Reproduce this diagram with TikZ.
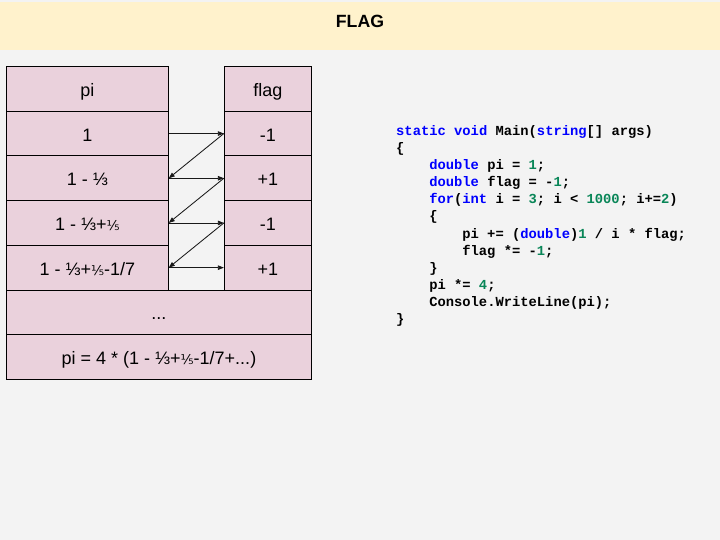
\documentclass[tikz,border=0pt]{standalone}
\usepackage{fontspec}
\setmainfont{Liberation Sans}
\newfontfamily\djv{DejaVu Sans}
\newfontfamily\codefont{Liberation Mono}
\usetikzlibrary{arrows.meta}
\definecolor{bgc}{HTML}{F3F3F3}
\definecolor{bann}{HTML}{FFF2CC}
\definecolor{cellc}{HTML}{EAD1DC}
\definecolor{kwc}{HTML}{0000FF}
\definecolor{numc}{HTML}{098658}
\newcommand{\kwd}[1]{\textcolor{kwc}{#1}}
\newcommand{\nmb}[1]{\textcolor{numc}{#1}}
\newcommand{\fifth}{{\djv\fontsize{13.5}{13.5}\selectfont ⅕}}
\begin{document}
\begin{tikzpicture}[x=1pt,y=-1pt,
 cell/.style={draw=black, line width=0.9pt, fill=cellc, inner sep=0pt, minimum height=44.7pt, text height=15.2pt, text depth=0pt, font=\fontsize{18}{18}\selectfont},
 picol/.style={cell, minimum width=161.8pt},
 flagcol/.style={cell, minimum width=87pt},
 widecol/.style={cell, minimum width=304.8pt},
 link/.style={line width=0.85pt, draw=black!90, -{Triangle[length=6pt,width=4.5pt]}},
 codeline/.style={anchor=base west, inner sep=0pt, font=\codefont\bfseries\fontsize{13.8}{17}\selectfont}]
\useasboundingbox (0,0) rectangle (720,540);
\fill[bgc] (0,0) rectangle (720,540);
\fill[bann] (0,2) rectangle (720,50);
\node[anchor=base, font=\bfseries\fontsize{17.7}{18}\selectfont] (title) at (360,28) {FLAG};

\node[picol] (p0) at (87.4,88.85) {pi};
\node[flagcol] (f0) at (267.8,88.85) {flag};
\node[picol] (p1) at (87.4,133.55) {1};
\node[flagcol] (f1) at (267.8,133.55) {-1};
\node[picol] (p2) at (87.4,178.25) {1 - ⅓};
\node[flagcol] (f2) at (267.8,178.25) {+1};
\node[picol] (p3) at (87.4,222.95) {1 - ⅓+\fifth};
\node[flagcol] (f3) at (267.8,222.95) {-1};
\node[picol] (p4) at (87.4,267.65) {1 - ⅓+\fifth-1/7};
\node[flagcol] (f4) at (267.8,267.65) {+1};
\node[widecol] (dots) at (158.9,312.35) {...};
\node[widecol] (res) at (158.9,357.05) {pi = 4 * (1 - ⅓+\fifth-1/7+...)};

\draw[link] (p1.east) -- (f1.west);
\draw[link] (f1.west) -- (p2.east);
\draw[link] (p2.east) -- (f2.west);
\draw[link] (f2.west) -- (p3.east);
\draw[link] (p3.east) -- (f3.west);
\draw[link] (f3.west) -- (p4.east);
\draw[link] (p4.east) -- (f4.west);

\node[codeline] (c1) at (396,136) {\kwd{static void} Main(\kwd{string}[] args)};
\node[codeline] (c2) at (396,153) {\{};
\node[codeline] (c3) at (429.1,170) {\kwd{double} pi = \nmb{1};};
\node[codeline] (c4) at (429.1,187) {\kwd{double} flag = -\nmb{1};};
\node[codeline] (c5) at (429.1,204) {\kwd{for}(\kwd{int} i = \nmb{3}; i < \nmb{1000}; i+=\nmb{2})};
\node[codeline] (c6) at (429.1,221) {\{};
\node[codeline] (c7) at (462.2,238) {pi += (\kwd{double})\nmb{1} / i * flag;};
\node[codeline] (c8) at (462.2,255) {flag *= -\nmb{1};};
\node[codeline] (c9) at (429.1,272) {\}};
\node[codeline] (c10) at (429.1,289) {pi *= \nmb{4};};
\node[codeline] (c11) at (429.1,306) {Console.WriteLine(pi);};
\node[codeline] (c12) at (396,323) {\}};
\end{tikzpicture}
\end{document}
